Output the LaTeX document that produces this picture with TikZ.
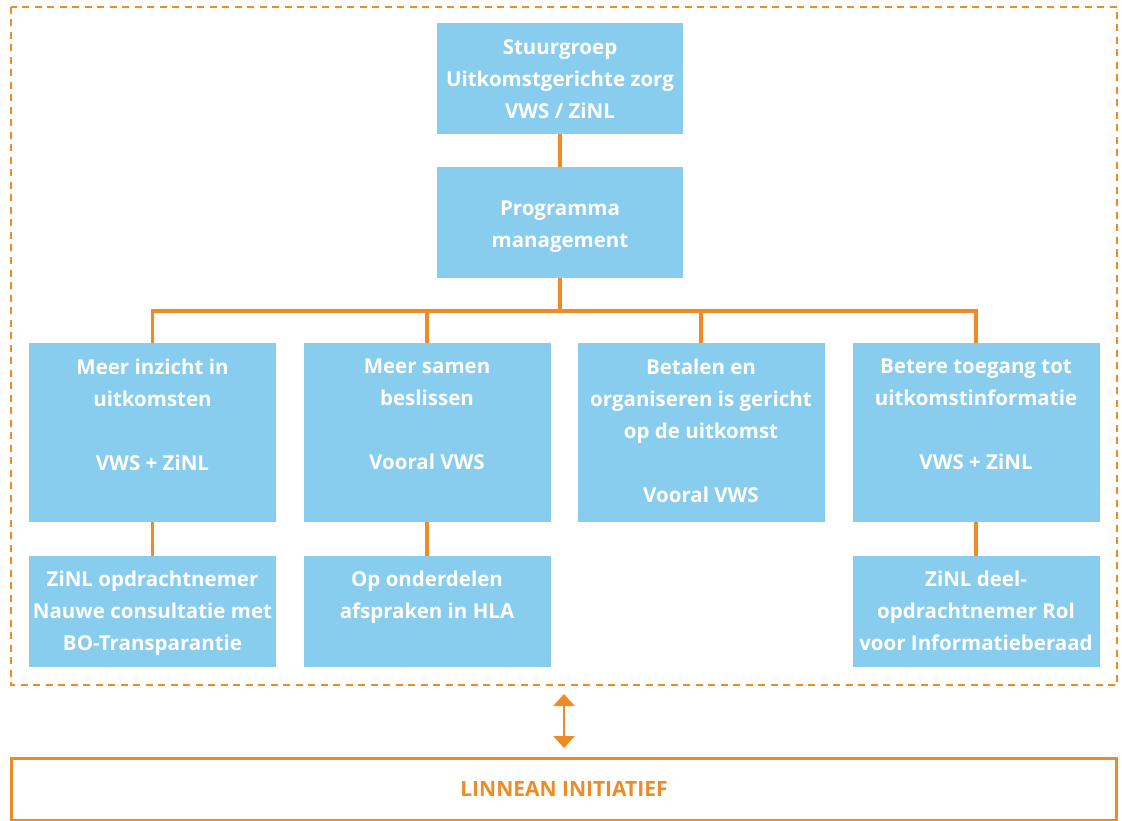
\documentclass[tikz,border=0pt]{standalone}
\usepackage{fontspec}
\setmainfont{Open Sans}
\usetikzlibrary{arrows.meta}
\definecolor{boxblue}{HTML}{89CDEE}
\definecolor{lineorange}{HTML}{F08A24}
\tikzset{
  bluebox/.style={fill=boxblue, draw=none, text=white, font=\fontsize{20.5}{32}\selectfont\bfseries, align=center, inner sep=0pt},
  boxtext/.style={text=white, font=\fontsize{20.5}{32}\selectfont\bfseries, align=center, inner sep=0pt, anchor=north},
  conn/.style={draw=lineorange, line width=3.2pt},
}
\begin{document}
\begin{tikzpicture}[x=1pt,y=-1pt]
\useasboundingbox (0,0) rectangle (1122,821);
\draw[lineorange, line width=2.6pt, dash pattern=on 7pt off 5.5pt] (11,7) rectangle (1117,685);
% top nodes
\node[bluebox, minimum width=246pt, minimum height=111pt] (sg) at (560,78.5) {};
\node[boxtext] at (560,39) {Stuurgroep\\Uitkomstgerichte zorg\\VWS / ZiNL};
\node[bluebox, minimum width=246pt, minimum height=111pt] (pm) at (560,222.5) {};
\node[boxtext] at (560,201) {Programma\\management};
% row 1
\node[bluebox, minimum width=247pt, minimum height=179pt, anchor=north] (a) at (152.5,343) {};
\node[bluebox, minimum width=247pt, minimum height=179pt, anchor=north] (b) at (427,343) {};
\node[bluebox, minimum width=247pt, minimum height=179pt, anchor=north] (c) at (701,343) {};
\node[bluebox, minimum width=247pt, minimum height=179pt, anchor=north] (d) at (976,343) {};
\node[boxtext] at (152.5,359) {Meer inzicht in\\uitkomsten\\\strut\\VWS + ZiNL};
\node[boxtext] at (427,359) {Meer samen\\beslissen\\\strut\\Vooral VWS};
\node[boxtext] at (701,359) {Betalen en\\organiseren is gericht\\op de uitkomst\\\strut\\Vooral VWS};
\node[boxtext] at (976,359) {Betere toegang tot\\uitkomstinformatie\\\strut\\VWS + ZiNL};
% row 2
\node[bluebox, minimum width=247pt, minimum height=111pt, anchor=north] (a2) at (152.5,556) {};
\node[bluebox, minimum width=247pt, minimum height=111pt, anchor=north] (b2) at (427,556) {};
\node[bluebox, minimum width=247pt, minimum height=111pt, anchor=north] (d2) at (976,556) {};
\node[boxtext] at (152.5,571) {ZiNL opdrachtnemer\\Nauwe consultatie met\\BO-Transparantie};
\node[boxtext] at (427,571) {Op onderdelen\\afspraken in HLA};
\node[boxtext] at (976,571) {ZiNL deel-\\opdrachtnemer Rol\\voor Informatieberaad};
% connectors
\coordinate (bus) at (560,311);
\draw[conn] (sg.south) -- (pm.north);
\draw[conn] (pm.south) -- (bus);
\draw[conn] (a.north) -- (a.north |- bus) -- (d.north |- bus) -- (d.north);
\draw[conn] (b.north |- bus) -- (b.north);
\draw[conn] (c.north |- bus) -- (c.north);
\draw[conn] (a.south) -- (a2.north);
\draw[conn] (b.south) -- (b2.north);
\draw[conn] (d.south) -- (d2.north);
% bottom
\node[draw=lineorange, line width=3pt, minimum width=1105pt, minimum height=62pt, text=lineorange, font=\fontsize{21}{24}\selectfont\bfseries, inner sep=0pt] (li) at (564,789) {LINNEAN INITIATIEF};
\coordinate (at) at (564,694);
\coordinate (ab) at (564,748);
\draw[lineorange, line width=2.8pt, {Triangle[length=12pt,width=21pt]}-{Triangle[length=12pt,width=21pt]}] (at) -- (ab);
\end{tikzpicture}
\end{document}
